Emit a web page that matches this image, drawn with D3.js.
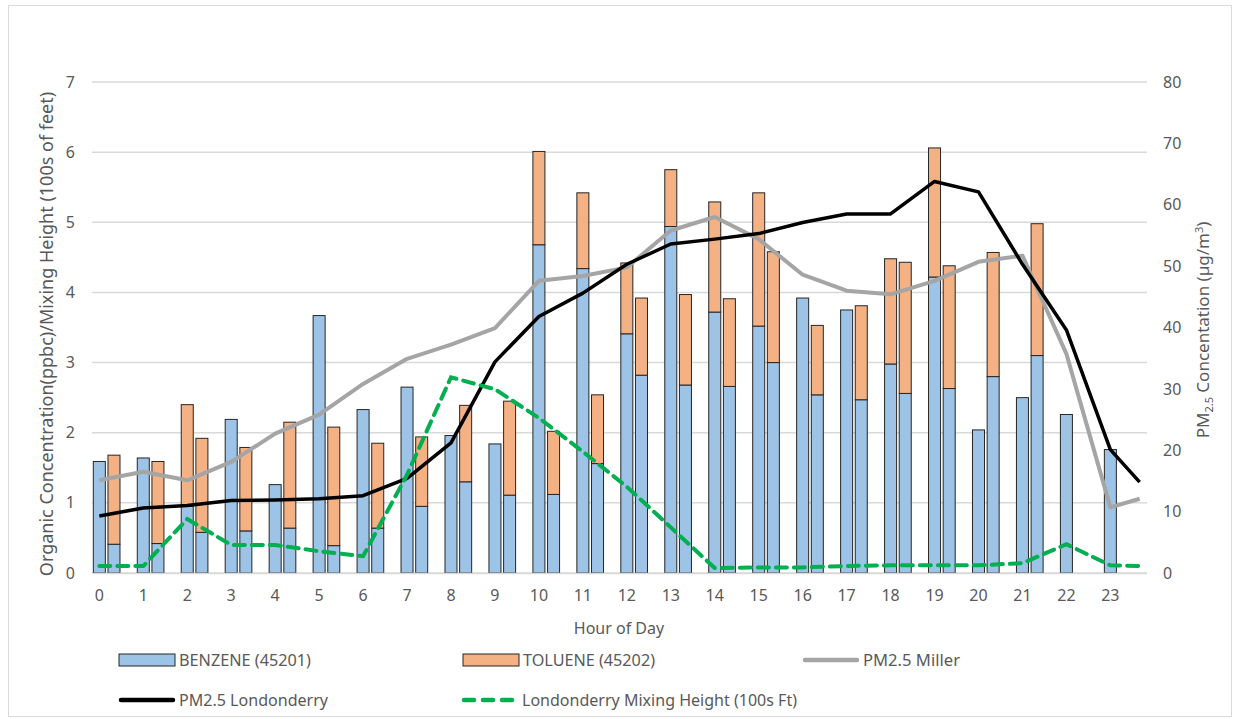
<!DOCTYPE html>
<meta charset="utf-8">
<style>
  body { margin: 0; background: #fff; }
  text { font-family: "Noto Sans", sans-serif; fill: #595959; }
</style>
<body>
<script src="https://cdn.jsdelivr.net/npm/d3@7"></script>
<script>

    var width = 1234,
        height = 719;

    // hours shown under each group of bars
    var hours = d3.range(24);

    // first bar of each hour
    var benzeneA = [1.59, 1.64, 0.95, 2.19, 1.26, 3.67, 2.33, 2.65, 1.96, 1.84, 4.68, 4.34,
                    3.41, 4.94, 3.72, 3.52, 3.92, 3.75, 2.98, 4.22, 2.04, 2.50, 2.26, 1.76];
    var tolueneA = [0, 0, 1.45, 0, 0, 0, 0, 0, 0, 0, 1.33, 1.08,
                    1.01, 0.81, 1.57, 1.90, 0, 0, 1.50, 1.84, 0, 0, 0, 0];
    // second bar of each hour
    var benzeneB = [0.41, 0.42, 0.58, 0.60, 0.64, 0.39, 0.64, 0.95, 1.30, 1.11, 1.12, 1.56,
                    2.82, 2.68, 2.66, 3.00, 2.54, 2.47, 2.56, 2.63, 2.80, 3.10, null, null];
    var tolueneB = [1.27, 1.17, 1.34, 1.19, 1.51, 1.69, 1.21, 0.99, 1.09, 1.34, 0.90, 0.98,
                    1.10, 1.29, 1.25, 1.58, 0.99, 1.34, 1.87, 1.75, 1.77, 1.88, null, null];

    // line series: one point per hour plus a closing point at the end of the axis
    var pmMiller = [15.1, 16.5, 15.1, 18.1, 22.7, 25.8, 30.8, 34.9, 37.2, 39.9, 47.6, 48.4,
                    49.8, 55.8, 58.0, 54.4, 48.6, 46.0, 45.4, 47.6, 50.7, 51.7, 35.7, 10.7, 12.1];
    var pmLondonderry = [9.3, 10.6, 11.0, 11.8, 11.9, 12.1, 12.6, 15.4, 21.2, 34.4, 41.8, 45.6,
                    50.3, 53.6, 54.4, 55.3, 57.1, 58.5, 58.5, 63.8, 62.1, 50.3, 39.6, 20.1, 14.8];
    var mixingHeight = [0.10, 0.10, 0.77, 0.40, 0.40, 0.31, 0.24, 1.40, 2.79, 2.62, 2.21, 1.73,
                    1.23, 0.65, 0.07, 0.08, 0.08, 0.10, 0.11, 0.11, 0.11, 0.14, 0.41, 0.11, 0.10];

    var leftTicks = [0, 1, 2, 3, 4, 5, 6, 7];
    var rightTicks = [0, 10, 20, 30, 40, 50, 60, 70, 80];

    var blue = "#9dc3e6", orange = "#f4b183";

    var svg = d3.select("body").append("svg")
        .attr("width", width)
        .attr("height", height);

    svg.append("rect")
        .attr("x", 8.5).attr("y", 5.5)
        .attr("width", 1223).attr("height", 711)
        .attr("fill", "none")
        .attr("stroke", "#d9d9d9");

    // three slots per hour: bar A, bar B, empty gap
    var x = d3.scaleBand()
        .domain(d3.range(hours.length * 3))
        .range([92, 1147])
        .paddingInner(0.18)
        .paddingOuter(0.09);

    var yL = d3.scaleLinear().domain([0, 7]).range([573, 82]);
    var yR = d3.scaleLinear().domain([0, 80]).range([573, 82]);

    // gridlines
    svg.append("g").selectAll("line")
        .data(leftTicks)
        .enter().append("line")
        .attr("x1", 92).attr("x2", 1147)
        .attr("y1", function(d) { return yL(d); })
        .attr("y2", function(d) { return yL(d); })
        .attr("stroke", "#d9d9d9")
        .attr("stroke-width", 1.5);

    // bar rows
    var rows = [];
    hours.forEach(function(h, i) {
        rows.push({slot: i * 3, benzene: benzeneA[i], toluene: tolueneA[i]});
        if (benzeneB[i] != null)
            rows.push({slot: i * 3 + 1, benzene: benzeneB[i], toluene: tolueneB[i]});
    });

    var stack = d3.stack().keys(["benzene", "toluene"])(rows);
    var colors = [blue, orange];

    stack.forEach(function(layer, k) {
        svg.append("g")
            .selectAll("rect")
            .data(layer.filter(function(d) { return d[1] - d[0] > 0; }))
            .enter().append("rect")
            .attr("x", function(d) { return x(d.data.slot); })
            .attr("width", x.bandwidth())
            .attr("y", function(d) { return yL(d[1]); })
            .attr("height", function(d) { return yL(d[0]) - yL(d[1]); })
            .attr("fill", colors[k])
            .attr("stroke", "#262626")
            .attr("stroke-width", 1);
    });

    // line slots
    var lineSlots = hours.map(function(h) { return h * 3; }).concat([hours.length * 3 - 1]);
    function cx(i) { return x(lineSlots[i]) + x.bandwidth() / 2; }

    var lineR = d3.line().x(function(d, i) { return cx(i); }).y(function(d) { return yR(d); });
    var lineL = d3.line().x(function(d, i) { return cx(i); }).y(function(d) { return yL(d); });

    svg.append("path").datum(pmMiller)
        .attr("d", lineR).attr("fill", "none")
        .attr("stroke", "#a5a5a5").attr("stroke-width", 4).attr("stroke-linejoin", "round");
    svg.append("path").datum(pmLondonderry)
        .attr("d", lineR).attr("fill", "none")
        .attr("stroke", "#000").attr("stroke-width", 3.5).attr("stroke-linejoin", "round");
    svg.append("path").datum(mixingHeight)
        .attr("d", lineL).attr("fill", "none")
        .attr("stroke", "#00b050").attr("stroke-width", 4)
        .attr("stroke-dasharray", "11,7").attr("stroke-linecap", "round");

    // baseline
    svg.append("line")
        .attr("x1", 92).attr("x2", 1147).attr("y1", 573.5).attr("y2", 573.5)
        .attr("stroke", "#d9d9d9").attr("stroke-width", 1.5);

    // axes
    var xAxis = d3.axisBottom(x)
        .tickValues(lineSlots.slice(0, hours.length))
        .tickFormat(function(d) { return hours[d / 3]; })
        .tickSize(0).tickPadding(17);
    var gx = svg.append("g").attr("transform", "translate(0,573)").call(xAxis);

    var gl = svg.append("g").attr("transform", "translate(92,0)")
        .call(d3.axisLeft(yL).tickValues(leftTicks).tickFormat(d3.format("d"))
            .tickSize(0).tickPadding(17));
    var gr = svg.append("g").attr("transform", "translate(1147,0)")
        .call(d3.axisRight(yR).tickValues(rightTicks).tickFormat(d3.format("d"))
            .tickSize(0).tickPadding(16));

    [gx, gl, gr].forEach(function(g) {
        g.select(".domain").remove();
        g.selectAll("text").style("font-family", "'Noto Sans', sans-serif")
            .attr("fill", "#595959").style("font-size", "16px");
    });

    // axis titles
    svg.append("text")
        .attr("x", 619).attr("y", 634)
        .attr("text-anchor", "middle")
        .style("font-size", "16px")
        .text("Hour of Day");

    svg.append("text")
        .attr("transform", "translate(53,334) rotate(-90)")
        .attr("text-anchor", "middle")
        .style("font-size", "18px")
        .text("Organic Concentration(ppbc)/Mixing Height (100s of feet)");

    var rt = svg.append("text")
        .attr("transform", "translate(1209,330) rotate(-90)")
        .attr("text-anchor", "middle")
        .style("font-size", "17px");
    rt.append("tspan").text("PM");
    rt.append("tspan").attr("dy", 4).style("font-size", "11px").text("2.5");
    rt.append("tspan").attr("dy", -4).text(" Concentation (µg/m");
    rt.append("tspan").attr("dy", -6).style("font-size", "11px").text("3");
    rt.append("tspan").attr("dy", 6).text(")");

    // legend
    var legendItems = [
        {name: "BENZENE (45201)", type: "box", color: blue, x: 119, y: 660, w: 132},
        {name: "TOLUENE (45202)", type: "box", color: orange, x: 463, y: 660, w: 132},
        {name: "PM2.5 Miller", type: "line", color: "#a5a5a5", x: 803, y: 660, w: 97},
        {name: "PM2.5 Londonderry", type: "line", color: "#000", x: 119, y: 700, w: 149},
        {name: "Londonderry Mixing Height (100s Ft)", type: "dash", color: "#00b050", x: 462, y: 700, w: 275}
    ];

    var lg = svg.append("g").attr("class", "legend")
        .selectAll("g")
        .data(legendItems)
        .enter().append("g")
        .attr("transform", function(d) { return "translate(" + d.x + "," + d.y + ")"; });

    lg.filter(function(d) { return d.type == "box"; })
        .append("rect")
        .attr("x", 0).attr("y", -6).attr("width", 56).attr("height", 12)
        .attr("fill", function(d) { return d.color; })
        .attr("stroke", "#262626");

    lg.filter(function(d) { return d.type != "box"; })
        .append("line")
        .attr("x1", 2).attr("x2", 54).attr("y1", 0).attr("y2", 0)
        .attr("stroke", function(d) { return d.color; })
        .attr("stroke-width", 4.5)
        .attr("stroke-linecap", "round")
        .attr("stroke-dasharray", function(d) { return d.type == "dash" ? "10,9" : null; });

    lg.append("text")
        .attr("x", 60).attr("y", 6)
        .style("font-size", "17px")
        .attr("textLength", function(d) { return d.w; })
        .attr("lengthAdjust", "spacingAndGlyphs")
        .text(function(d) { return d.name; });

</script>
